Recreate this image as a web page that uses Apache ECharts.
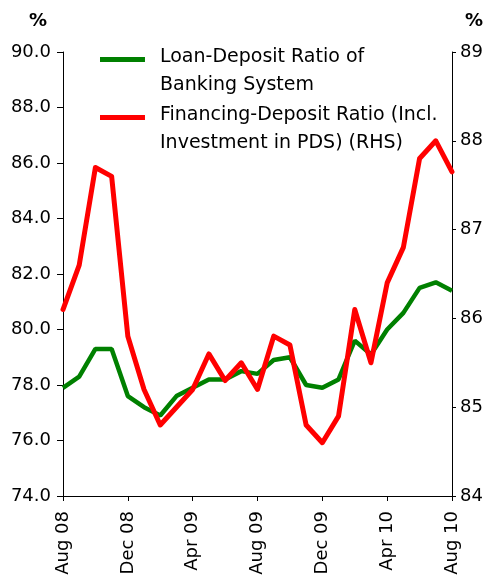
<!DOCTYPE html>
<html>
<head>
<meta charset="utf-8">
<script src="https://cdn.jsdelivr.net/npm/echarts@6/dist/echarts.min.js"></script>
<style>
  html, body { margin: 0; padding: 0; background: #fff; }
  #main { width: 488px; height: 582px; }
</style>
</head>
<body>
<div id="main"></div>
<script>
var months = ['Aug 08','Sep 08','Oct 08','Nov 08','Dec 08','Jan 09','Feb 09','Mar 09','Apr 09','May 09','Jun 09','Jul 09',
  'Aug 09','Sep 09','Oct 09','Nov 09','Dec 09','Jan 10','Feb 10','Mar 10','Apr 10','May 10','Jun 10','Jul 10','Aug 10'];

// loan-deposit ratio, left axis (%)
var loanDeposit = [77.9, 78.3, 79.3, 79.3, 77.6, 77.2, 76.9, 77.6, 77.9, 78.2, 78.2, 78.5, 78.4,
  78.9, 79.0, 78.0, 77.9, 78.2, 79.6, 79.1, 80.0, 80.6, 81.5, 81.7, 81.4];

// financing-deposit ratio incl. PDS, right axis (%)
var financingDeposit = [86.1, 86.6, 87.7, 87.6, 85.8, 85.2, 84.8, 85.0, 85.2, 85.6, 85.3, 85.5, 85.2,
  85.8, 85.7, 84.8, 84.6, 84.9, 86.1, 85.5, 86.4, 86.8, 87.8, 88.0, 87.65];

var leftTicks = [74, 90, 2];
var rightTicks = [84, 89, 1];

var myChart = echarts.init(document.getElementById('main'));

var font = 'DejaVu Sans, sans-serif';
// legend icon: a 5px bar at the top of a taller invisible box so it sits on the first text line
var barIcon = 'path://M0,0 L45,0 L45,5 L0,5 Z M0,28 L0.01,28 L0.01,28.01 Z';

var option = {
  animation: false,
  backgroundColor: '#fff',
  textStyle: { fontFamily: font },
  grid: { left: 63, right: 36, top: 52, bottom: 86 },
  legend: {
    orient: 'vertical',
    left: 100,
    top: 43,
    padding: 0,
    itemWidth: 45,
    itemHeight: 28,
    itemGap: 2,
    icon: barIcon,
    textStyle: { fontSize: 19, color: '#000', fontFamily: font, lineHeight: 28, padding: [0, 0, 0, 10] },
    data: [
      { name: 'Loan-Deposit Ratio of\nBanking System' },
      { name: 'Financing-Deposit Ratio (Incl.\nInvestment in PDS) (RHS)' }
    ]
  },
  xAxis: {
    type: 'category',
    data: months,
    boundaryGap: false,
    axisLine: { lineStyle: { color: '#000', width: 1 } },
    axisTick: { interval: 3, length: 5, lineStyle: { color: '#000' } },
    axisLabel: { interval: 3, rotate: 90, fontSize: 18, color: '#000', margin: 15, fontFamily: font }
  },
  yAxis: [
    {
      type: 'value',
      name: '%',
      nameLocation: 'end',
      nameGap: 22,
      nameTextStyle: { fontSize: 18, color: '#000', fontWeight: 'bold', align: 'right', padding: [0, 16, 0, 0], fontFamily: font },
      min: leftTicks[0], max: leftTicks[1], interval: leftTicks[2],
      axisLine: { show: true, lineStyle: { color: '#000' } },
      axisTick: { show: true, length: 6, lineStyle: { color: '#000' } },
      splitLine: { show: false },
      axisLabel: { fontSize: 18, color: '#000', margin: 12, fontFamily: font, formatter: function (v) { return v.toFixed(1); } }
    },
    {
      type: 'value',
      name: '%',
      nameLocation: 'end',
      nameGap: 22,
      nameTextStyle: { fontSize: 18, color: '#000', fontWeight: 'bold', align: 'left', padding: [0, 0, 0, 13], fontFamily: font },
      min: rightTicks[0], max: rightTicks[1], interval: rightTicks[2],
      position: 'right',
      axisLine: { show: true, lineStyle: { color: '#000' } },
      axisTick: { show: true, length: 4, lineStyle: { color: '#000' } },
      splitLine: { show: false },
      axisLabel: { fontSize: 18, color: '#000', margin: 8, fontFamily: font }
    }
  ],
  series: [
    {
      name: 'Loan-Deposit Ratio of\nBanking System',
      type: 'line',
      yAxisIndex: 0,
      data: loanDeposit,
      symbol: 'none',
      color: '#008000',
      lineStyle: { width: 4.5, color: '#008000' }
    },
    {
      name: 'Financing-Deposit Ratio (Incl.\nInvestment in PDS) (RHS)',
      type: 'line',
      yAxisIndex: 1,
      data: financingDeposit,
      symbol: 'none',
      color: '#ff0000',
      lineStyle: { width: 5, color: '#ff0000', cap: 'round', join: 'round' }
    }
  ]
};

option && myChart.setOption(option);
</script>
</body>
</html>
